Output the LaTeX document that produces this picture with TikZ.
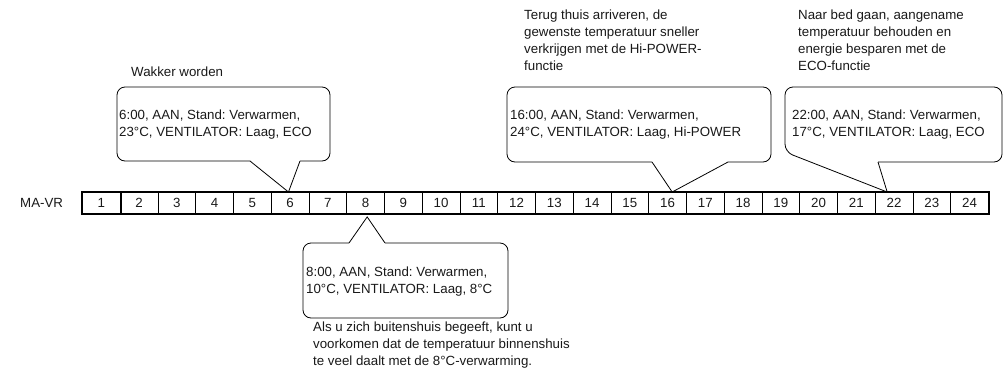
\documentclass[tikz,border=0pt]{standalone}
\usepackage{fontspec}
\setmainfont{Liberation Sans}
\usetikzlibrary{calc}
\frenchspacing
\begin{document}
\begin{tikzpicture}[x=1pt,y=-1pt,
  every node/.style={font=\fontsize{13.3}{17}\selectfont, inner sep=0pt, text=black!90},
  cell/.style={draw, line width=0.9pt, minimum width=37.75pt, minimum height=21pt, anchor=north west},
  bubble/.style={draw, line width=0.8pt, rounded corners=8pt},
  ptr/.style={draw, line width=0.8pt, line join=miter},
  txt/.style={anchor=west, align=left}]
\path[use as bounding box] (0,0) rectangle (1004,378);

% timeline
\node[txt] (lbl) at (20,203) {MA-VR};
\foreach \i in {1,...,24}
  \node[cell] (c\i) at ({82+(\i-1)*37.75},192) {\i};
\draw[line width=1.4pt] (c1.north west) rectangle (c24.south east);
\draw[line width=1.8pt] (c1.north west) rectangle (c1.south east);

% tips
\coordinate (tip6) at ([xshift=-1.6pt]c6.north);
\coordinate (tip16) at ([xshift=4.6pt]c16.north);
\coordinate (tip22) at ([xshift=-6.9pt]c22.north);
\coordinate (tip8) at ([shift={(1.6,3)}]c8.south);

% 6:00
\node[txt] (t6) at (119,124.5) {6:00, AAN, Stand: Verwarmen,\\23°C, VENTILATOR: Laag, ECO};
\draw[bubble] (300,161) -- (330,161) -- (330,87) -- (117,87) -- (117,161) -- (250,161);
\draw[ptr] (250,161) -- (tip6) -- (300,161);

% 16:00
\node[txt] (t16) at (510,124.5) {16:00, AAN, Stand: Verwarmen,\\24°C, VENTILATOR: Laag, Hi-POWER};
\draw[bubble] (728,162) -- (771,162) -- (771,87) -- (507,87) -- (507,162) -- (652,162);
\draw[ptr] (652,162) -- (tip16) -- (728,162);

% 22:00
\node[txt] (t22) at (792,124.5) {22:00, AAN, Stand: Verwarmen,\\17°C, VENTILATOR: Laag, ECO};
\coordinate (p22) at ($(785,152)!12pt!(tip22)$);
\draw[bubble] (878,162) -- (1002,162) -- (1002,87) -- (785,87) -- (785,152) -- (p22);
\draw[ptr] (p22) -- (tip22) -- (878,162);

% 8:00
\node[txt] (t8) at (306,281.5) {8:00, AAN, Stand: Verwarmen,\\10°C, VENTILATOR: Laag, 8°C};
\draw[bubble] (385,243) -- (508,243) -- (508,318) -- (303,318) -- (303,243) -- (349,243);
\draw[ptr] (349,243) -- (tip8) -- (385,243);

% annotations
\node[txt] (a6) at (131,72) {Wakker worden};
\node[txt] (a16) at (524,40.5) {Terug thuis arriveren, de\\gewenste temperatuur sneller\\verkrijgen met de Hi-POWER-\\functie};
\node[txt] (a22) at (798,40.5) {Naar bed gaan, aangename\\temperatuur behouden en\\energie besparen met de\\ECO-functie};
\node[txt] (a8) at (313,345) {Als u zich buitenshuis begeeft, kunt u\\voorkomen dat de temperatuur binnenshuis\\te veel daalt met de 8°C-verwarming.};
\end{tikzpicture}
\end{document}
